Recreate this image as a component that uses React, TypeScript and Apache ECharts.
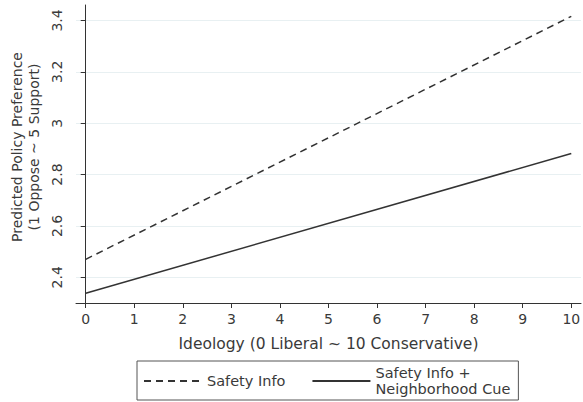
import React, { useEffect, useRef } from "react";
import * as echarts from "echarts";

const xPoints = [0, 10];
const safetyInfo = [2.47, 3.416];
const safetyNeighborhood = [2.338, 2.882];
const xTicks = [0, 1, 2, 3, 4, 5, 6, 7, 8, 9, 10];
const yTicks = [2.4, 2.6, 2.8, 3.0, 3.2, 3.4];

const FONT = "DejaVu Sans";
const TEXT = "#3a3a3a";

export default function App() {
  const ref = useRef<HTMLDivElement>(null);
  useEffect(() => {
    if (!ref.current) return;
    const chart = echarts.init(ref.current, null, { renderer: "svg" });
    chart.setOption({
      animation: false,
      textStyle: { fontFamily: FONT, color: TEXT },
      grid: { left: 76, right: 2, top: 5, bottom: 99, containLabel: false, outerBoundsMode: "none" },
      legend: {
        bottom: 2,
        left: 137,
        orient: "horizontal",
        borderColor: "#555",
        borderWidth: 1,
        padding: [4, 8, 3, 6],
        itemGap: 26,
        itemWidth: 58,
        itemHeight: 10,
        itemStyle: { opacity: 0 },
        textStyle: { fontFamily: FONT, fontSize: 14.5, color: TEXT, lineHeight: 16 },
        data: [
          { name: "Safety Info" },
          { name: "Safety Info +\nNeighborhood Cue" },
        ],
      },
      xAxis: {
        type: "value",
        min: -0.2,
        max: 10.2,
        axisLine: { show: true, lineStyle: { color: "#333", width: 1 } },
        axisTick: {
          show: true,
          length: 5,
          inside: false,
          customValues: xTicks,
          lineStyle: { color: "#333" },
        },
        axisLabel: {
          customValues: xTicks,
          fontFamily: FONT,
          fontSize: 14,
          color: TEXT,
          margin: 9,
          formatter: (v: number) => String(v),
        },
        splitLine: { show: false },
        name: "Ideology (0 Liberal ~ 10 Conservative)",
        nameLocation: "middle",
        nameGap: 33,
        nameTextStyle: { fontFamily: FONT, fontSize: 15.5, color: TEXT },
      },
      yAxis: {
        type: "value",
        min: 2.3,
        max: 3.46,
        axisLine: { show: true, lineStyle: { color: "#333", width: 1 } },
        axisTick: {
          show: true,
          length: 5,
          inside: false,
          customValues: yTicks,
          lineStyle: { color: "#333" },
        },
        axisLabel: {
          customValues: yTicks,
          rotate: 90,
          fontFamily: FONT,
          fontSize: 14,
          color: TEXT,
          margin: 12,
          formatter: (v: number) => String(Math.round(v * 10) / 10),
        },
        splitLine: { show: true, lineStyle: { color: "#e8f0f2", width: 1 } },
        name: "Predicted Policy Preference\n(1 Oppose ~ 5 Support)",
        nameLocation: "middle",
        nameGap: 33,
        nameTextStyle: {
          fontFamily: FONT,
          fontSize: 14,
          color: TEXT,
          lineHeight: 17,
          padding: [0, 0, 0, 14],
        },
      },
      series: [
        {
          name: "Safety Info",
          type: "line",
          data: xPoints.map((x, i) => [x, safetyInfo[i]]),
          symbol: "none",
          lineStyle: { color: "#333", width: 1.5, type: [7, 5] },
          itemStyle: { color: "#333" },
        },
        {
          name: "Safety Info +\nNeighborhood Cue",
          type: "line",
          data: xPoints.map((x, i) => [x, safetyNeighborhood[i]]),
          symbol: "none",
          lineStyle: { color: "#333", width: 1.5, type: "solid" },
          itemStyle: { color: "#333" },
        },
      ],
    });
    return () => chart.dispose();
  }, []);
  return <div ref={ref} style={{ width: 583, height: 402, position: "absolute", left: 0, top: 0 }} />;
}
